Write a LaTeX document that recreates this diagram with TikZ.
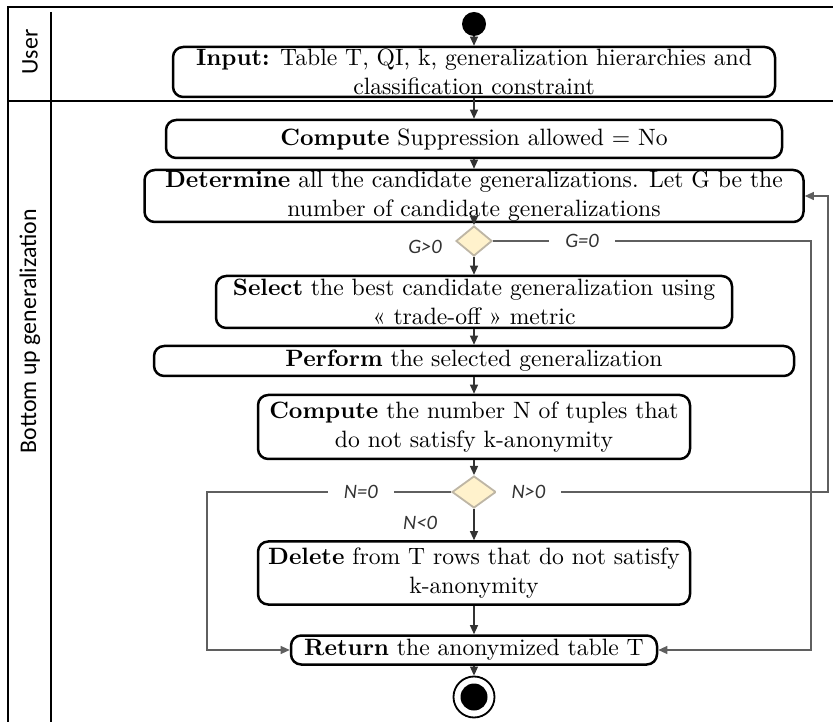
\documentclass[tikz,border=0pt]{standalone}
\usepackage{fontspec}
\newfontfamily\lanefont{Carlito}
\usetikzlibrary{positioning, shapes.geometric, arrows.meta, calc}
\newcommand{\px}{0.44pt}
\definecolor{gristrait}{RGB}{95,95,95}
\definecolor{jaunepale}{RGB}{255,242,204}
\definecolor{bordlosange}{RGB}{190,182,165}

\begin{document}
\begin{tikzpicture}[x=\px, y=-\px, font=\fontsize{10.4}{13}\selectfont,
    activite/.style={draw, line width=1.1pt, rounded corners=4.5pt, align=center, inner sep=0pt},
    losange/.style={diamond, draw=bordlosange, fill=jaunepale, line width=0.8pt, inner sep=0pt},
    fleche/.style={-{Triangle[length=4pt, width=3.5pt]}, line width=0.6pt, draw=black!80},
    boucle/.style={-{Triangle[length=4pt, width=3.5pt]}, line width=0.6pt, draw=gristrait},
    garde/.style={font=\lanefont\itshape\fontsize{9}{10}\selectfont, text=black!80, inner sep=2pt},
    couloir/.style={font=\lanefont\fontsize{10.5}{12}\selectfont, rotate=90}]
  \useasboundingbox (0,0) rectangle (833,722);
  % couloirs
  \draw[line width=1.2pt] (8,722) -- (8,7) -- (833,7);
  \draw[line width=1.2pt] (51,12) -- (51,722);
  \draw[line width=0.8pt] (8,101) -- (833,101);
  \node[couloir] (lane1) at (30,52) {User};
  \node[couloir] (lane2) at (30,331) {Bottom up generalization};

  % noeuds de depart et de fin
  \node[circle, fill=black, minimum size=24*\px, inner sep=0pt] (start) at (474,24) {};
  \node[circle, draw, line width=0.8pt, minimum size=41*\px, inner sep=0pt] (stop) at (474,697) {};
  \node[circle, fill=black, minimum size=27*\px, inner sep=0pt] (stopdot) at (stop) {};

  % activites
  \node[activite, minimum width=602*\px, minimum height=50*\px] (input) at (474,72)
    {\textbf{Input:} Table T, QI, k, generalization hierarchies and\\classification constraint};
  \node[activite, minimum width=616*\px, minimum height=38*\px] (supp) at (474,139)
    {\textbf{Compute} Suppression allowed = No};
  \node[activite, minimum width=659*\px, minimum height=52*\px] (determine) at (474,196)
    {\textbf{Determine} all the candidate generalizations. Let G be the\\number of candidate generalizations};
  \node[losange, minimum width=36*\px, minimum height=30*\px] (dec1) at (474,241) {};
  \node[activite, minimum width=516*\px, minimum height=52*\px] (select) at (474,302)
    {\textbf{Select} the best candidate generalization using\\\guillemotleft{} trade-off \guillemotright{} metric};
  \node[activite, minimum width=640*\px, minimum height=30*\px] (perform) at (474,361)
    {\textbf{Perform} the selected generalization};
  \node[activite, minimum width=432*\px, minimum height=64*\px] (count) at (474,427)
    {\textbf{Compute} the number N of tuples that\\do not satisfy k-anonymity};
  \node[losange, minimum width=44*\px, minimum height=32*\px] (dec2) at (474,492) {};
  \node[activite, minimum width=432*\px, minimum height=63*\px] (delete) at (474,573)
    {\textbf{Delete} from T rows that do not satisfy\\k-anonymity};
  \node[activite, minimum width=366*\px, minimum height=29*\px] (return) at (474,650)
    {\textbf{Return} the anonymized table T};

  % coins des boucles
  \coordinate (gcoin) at (811,241);
  \coordinate (ncoin) at (828,492);
  \coordinate (zcoin) at (207,492);

  % flot principal
  \draw[fleche] (start) -- (input);
  \draw[fleche] (input) -- (supp);
  \draw[fleche] (supp) -- (determine);
  \draw[fleche] (determine) -- (dec1);
  \draw[fleche] (dec1) -- (select);
  \node[garde] (gsup) at (425,247) {G>0};
  \draw[fleche] (count) -- (dec2);
  \draw[fleche] (dec2) -- (delete);
  \node[garde] (ninf) at (420,523) {N<0};
  \draw[fleche] (select) -- (perform);
  \draw[fleche] (perform) -- (count);
  \draw[fleche] (delete) -- (return);
  \draw[fleche] (return) -- (stop);

  % boucles
  \draw[boucle] (dec1.east) -- node[garde, fill=white, pos=0.28, inner xsep=7pt] {G=0} (gcoin) |- (return.east);
  \draw[boucle] (dec2.east) -- node[garde, fill=white, pos=0.095, inner xsep=7pt] {N>0} (ncoin) |- (determine.east);
  \draw[boucle] (dec2.west) -- node[garde, fill=white, pos=0.37, inner xsep=7pt] {N=0} (zcoin) |- (return.west);
\end{tikzpicture}
\end{document}
